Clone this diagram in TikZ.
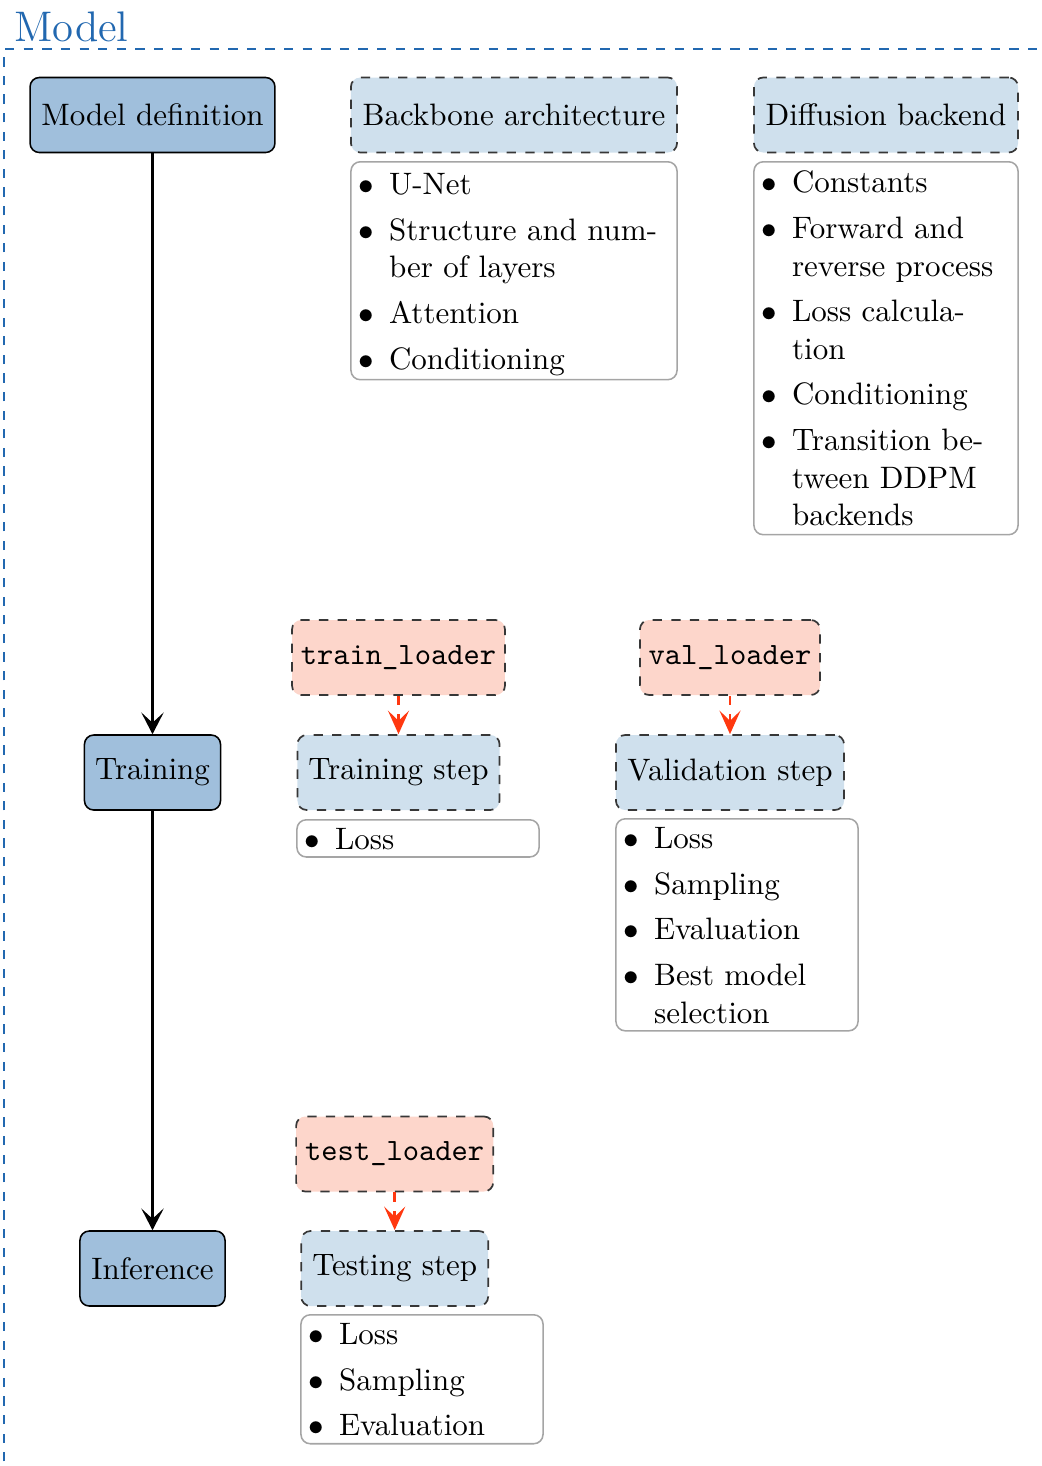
\documentclass[tikz,border=0pt]{standalone}
\usetikzlibrary{arrows.meta}

\definecolor{stageblue}{RGB}{160,191,220}
\definecolor{steplight}{RGB}{207,224,237}
\definecolor{loaderpink}{RGB}{253,214,203}
\definecolor{feedred}{RGB}{255,56,16}
\definecolor{frameblue}{RGB}{34,104,176}
\definecolor{edgegray}{RGB}{55,55,55}
\definecolor{listgray}{RGB}{165,165,165}

% bullet list laid out as a two-column table: bullet, then text
% (set slightly low inside its box, keeping the box's own size)
\newcommand\bulletlist[1]{\noindent\raisebox{-1.1pt}[\height][\depth]{%
  \begin{tabular}{@{\hspace{2.3pt}}l@{\hspace{5pt}}l@{}}#1\end{tabular}}}
\newcommand\bi{$\bullet$ &}
\newcommand\gap{\\[2.8pt]}

\tikzset{
  stage/.style={draw, line width=0.5pt, fill=stageblue, rounded corners=3pt,
    minimum height=24.2pt, inner sep=0pt},
  stepbox/.style={draw=edgegray, dashed, line width=0.55pt, fill=steplight,
    rounded corners=3pt, minimum height=24.2pt, inner sep=0pt},
  loader/.style={stepbox, fill=loaderpink, font=\ttfamily},
  listbox/.style={draw=listgray, line width=0.5pt, rounded corners=3pt,
    inner sep=0pt, align=left, anchor=north},
  flow/.style={-{Stealth[length=7pt,width=7.2pt,inset=3.3pt]}, line width=0.8pt},
  feed/.style={-{Stealth[length=7.6pt,width=6.8pt,inset=3.3pt]}, draw=feedred,
    dashed, line width=0.8pt},
}

\begin{document}
\begin{tikzpicture}[x=0.3226pt, y=-0.3226pt]
\useasboundingbox (0,0) rectangle (1042,1466);

% enclosing frame and its title
\draw[frameblue, dashed, line width=0.6pt] (4,1480) -- (4,49) -- (1060,49);
\node[anchor=base west, inner sep=0pt, text=frameblue, font=\fontsize{13.8}{16}\selectfont] (title) at (14,41.5) {Model};

% stages of the model
\node[stage, minimum width=79pt] (mdef) at (152.5,115) {Model definition};
\node[stage, minimum width=43.9pt] (train) at (152.5,772.5) {Training};
\node[stage, minimum width=46.8pt] (infer) at (152.5,1268.5) {Inference};

\draw[flow] (mdef) -- (train);
\draw[flow] (train) -- (infer);

% model definition components
\node[stepbox, minimum width=105.2pt] (backbone) at (514,115) {Backbone architecture};
\node[listbox, text width=105.2pt, minimum height=70.3pt] (bblist) at (514,161) {\bulletlist{%
  \bi U-Net\gap
  \bi Structure and num-\\
  & ber of layers\gap
  \bi Attention\gap
  \bi Conditioning}};

\node[stepbox, minimum width=85.2pt] (diffusion) at (886,115) {Diffusion backend};
\node[listbox, text width=85.2pt, minimum height=120.3pt] (difflist) at (886,161) {\bulletlist{%
  \bi Constants\gap
  \bi Forward and\\
  & reverse process\gap
  \bi Loss calcula-\\
  & tion\gap
  \bi Conditioning\gap
  \bi Transition be-\\
  & tween DDPM\\
  & backends}};

% training stage
\node[loader, minimum width=68.7pt] (trl) at (398.5,657.5) {train\_loader};
\node[stepbox, minimum width=65.2pt] (trs) at (398.5,772.5) {Training step};
\node[listbox, text width=78.1pt, minimum height=11.9pt] (trlist) at (418,819) {\bulletlist{%
  \bi Loss}};
\draw[feed] (trl) -- (trs);

\node[loader, minimum width=58.1pt] (vl) at (730,657.5) {val\_loader};
\node[stepbox, minimum width=73.6pt] (vs) at (730,772.5) {Validation step};
\node[listbox, text width=78.1pt, minimum height=68.1pt] (vlist) at (737,818) {\bulletlist{%
  \bi Loss\gap
  \bi Sampling\gap
  \bi Evaluation\gap
  \bi Best model\\
  & selection}};
\draw[feed] (vl) -- (vs);

% inference stage
\node[loader, minimum width=63.6pt] (tel) at (394.7,1154) {test\_loader};
\node[stepbox, minimum width=60.3pt] (tes) at (394.7,1268.5) {Testing step};
\node[listbox, text width=78.1pt, minimum height=41.6pt] (telist) at (422,1314) {\bulletlist{%
  \bi Loss\gap
  \bi Sampling\gap
  \bi Evaluation}};
\draw[feed] (tel) -- (tes);
\end{tikzpicture}
\end{document}
